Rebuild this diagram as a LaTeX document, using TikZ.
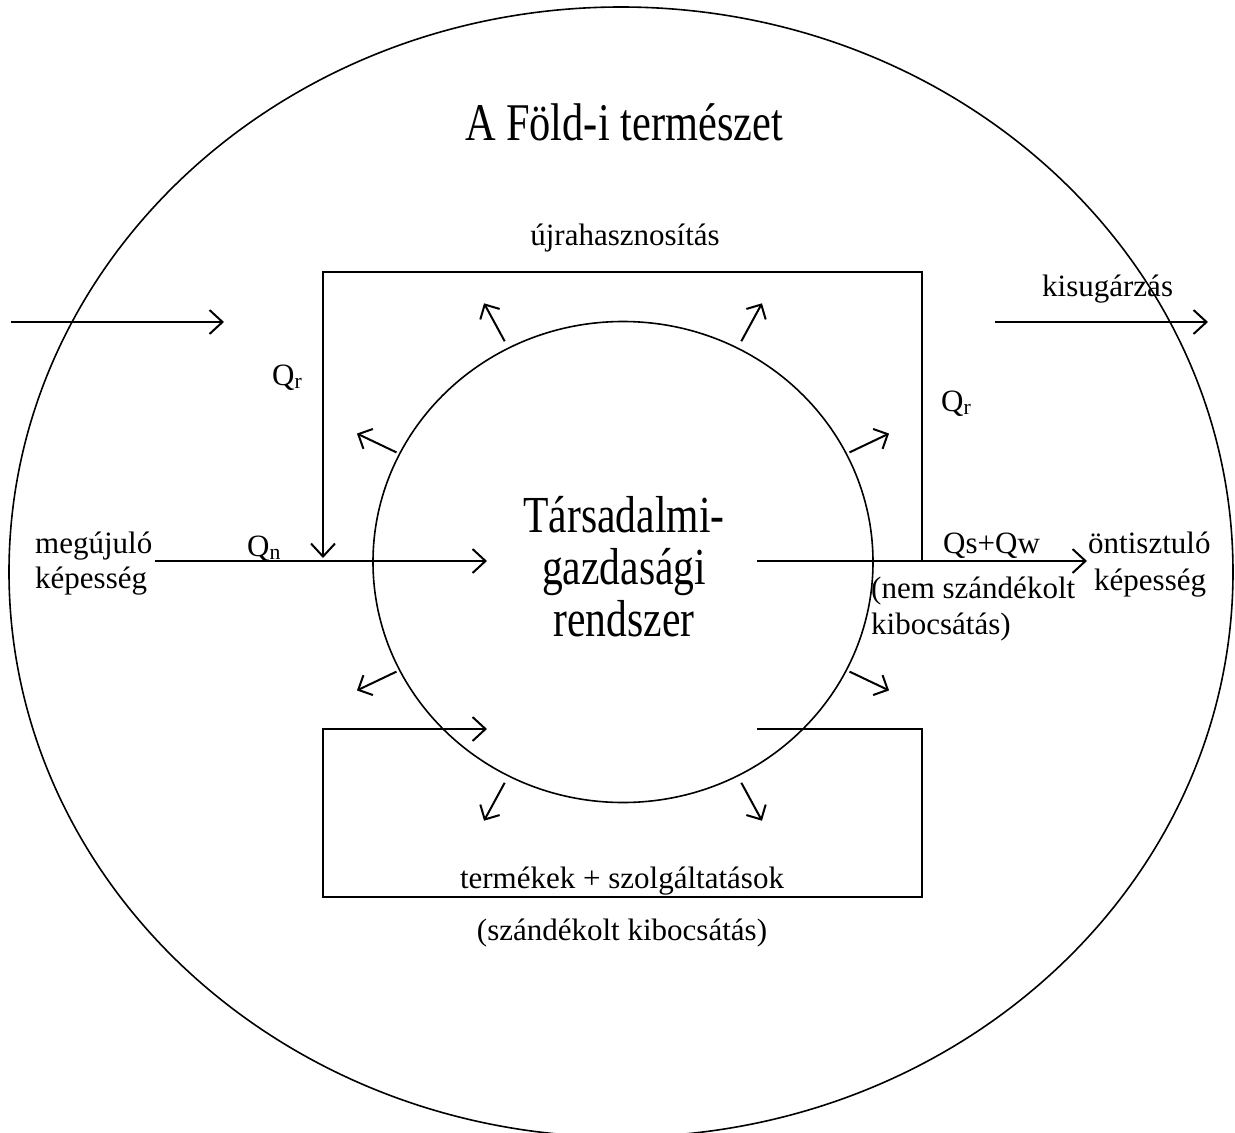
\documentclass[tikz,border=0pt]{standalone}
\usepackage{fontspec}
\setmainfont{Liberation Serif}
\newfontfamily\tallfont[FakeStretch=0.8]{Liberation Serif}
\usetikzlibrary{arrows.meta,shapes.geometric,calc}

\tikzset{
  flowarrow/.style={line width=2pt,-{Straight Barb[length=13pt,width=24pt,line width=2pt]}},
  ray/.style={line width=2pt,-{Straight Barb[length=11pt,width=22pt,line width=2pt]}},
  ring/.style={line width=1.6pt},
  lbl/.style={font=\fontsize{31}{36}\selectfont,inner sep=0pt},
  title/.style={font=\tallfont\fontsize{53}{60}\selectfont,inner sep=0pt},
  core/.style={font=\tallfont\fontsize{52}{52}\selectfont,inner sep=0pt,align=center}
}

\begin{document}
\begin{tikzpicture}[x=1pt,y=-1pt]
\useasboundingbox (0,0) rectangle (1235,1133);

% Earth and the socio-economic system
\node[ring,draw,ellipse,minimum width=1224pt,minimum height=1130pt,inner sep=0pt] (earth) at (621,572) {};
\node[ring,draw,ellipse,minimum width=500pt,minimum height=481pt,inner sep=0pt] (sys) at (623,562) {};

\node[title,anchor=base] (earthlbl) at (624,140) {A Föld-i természet};
\node[core,anchor=base] (syslbl) at (624,636) {Társadalmi-\\gazdasági\\rendszer};

% recycling loop
\coordinate (rtl) at (323,272);
\coordinate (rtr) at (922,272);
\coordinate (rin) at (323,558);
\coordinate (rout) at (922,561);
\draw[flowarrow] (rout) -- (rtr) -- (rtl) -- (rin);
\node[lbl,anchor=base] (reclbl) at (625,245) {újrahasznosítás};
\node[lbl,anchor=base west] (qrl) at (272,385) {Q\textsubscript{r}};
\node[lbl,anchor=base west] (qrr) at (941,411) {Q\textsubscript{r}};

% renewable input
\coordinate (nin) at (155,561);
\coordinate (ntip) at (487,561);
\draw[flowarrow] (nin) -- (ntip);
\node[lbl,anchor=base west] (renew) at (35,553) {megújuló};
\node[lbl,anchor=base west] (renew2) at (35,588) {képesség};
\node[lbl,anchor=base west] (qn) at (247,556) {Q\textsubscript{n}};

% unintended output
\coordinate (wout) at (757,561);
\coordinate (wtip) at (1087,561);
\draw[flowarrow] (wout) -- (wtip);
\node[lbl,anchor=base west] (qsw) at (943,553) {Qs+Qw};
\node[lbl,anchor=base west] (clean) at (1088,553) {öntisztuló};
\node[lbl,anchor=base west] (clean2) at (1094,590) {képesség};
\node[lbl,anchor=base west] (unint) at (871,598) {(nem szándékolt};
\node[lbl,anchor=base west] (unint2) at (871,634) {kibocsátás)};

% products loop
\coordinate (pr) at (757,729);
\coordinate (prt) at (922,729);
\coordinate (prb) at (922,897);
\coordinate (plb) at (323,897);
\coordinate (plt) at (323,729);
\coordinate (ptip) at (487,729);
\draw[flowarrow] (pr) -- (prt) -- (prb) -- (plb) -- (plt) -- (ptip);
\node[lbl,anchor=base] (prod) at (622,888) {termékek + szolgáltatások};
\node[lbl,anchor=base] (prod2) at (622,940) {(szándékolt kibocsátás)};

% radiation in and out
\coordinate (sunin) at (11,322);
\coordinate (suntip) at (224,322);
\draw[flowarrow] (sunin) -- (suntip);
\coordinate (radin) at (995,322);
\coordinate (radtip) at (1208,322);
\draw[flowarrow] (radin) -- (radtip);
\node[lbl,anchor=base west] (rad) at (1042,296) {kisugárzás};

% rays leaving the system
\foreach \a in {26,62,118,154,206,242,298,334}
  \draw[ray] ($(sys.center)+(\a:252pt and 250pt)$) -- ($(sys.center)+(\a:296pt and 293pt)$);
\end{tikzpicture}
\end{document}
